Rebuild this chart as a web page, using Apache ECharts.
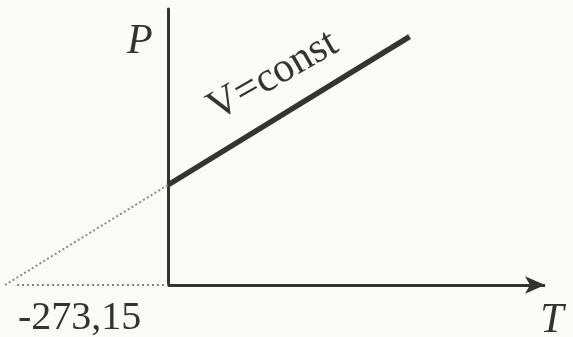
<!DOCTYPE html>
<html>
<head>
<meta charset="utf-8">
<style>
  html, body { margin: 0; padding: 0; background: #fafaf9; }
  #chart { width: 573px; height: 337px; }
</style>
<script src="https://cdn.jsdelivr.net/npm/echarts@6/dist/echarts.min.js"></script>
</head>
<body>
<div id="chart"></div>
<script>
// Isochoric process: pressure grows linearly with temperature (°C),
// extrapolating to zero pressure at absolute zero.
const absoluteZero = -273.15;
const isochoreT = [0, 405];          // measured range, °C
const isochoreP = [1, 2.483];        // relative pressure
const extrapT = [absoluteZero, 0];   // dotted extrapolation
const extrapP = [0, 1];
const baseT = [-253, 0];             // dotted continuation of the T axis
const baseP = [0, 0];
const axisT = [0, 632];              // drawn T axis with arrow
const zeroLabel = '-273,15';
const lineLabel = 'V=const';
const labelAnchor = [176, 2.09];     // centre of the V=const caption in data units

const pairs = (xs, ys) => xs.map((x, i) => [x, ys[i]]);
const serif = '"Liberation Serif", "DejaVu Serif", serif';
const ink = '#333333';

const chart = echarts.init(document.getElementById('chart'), null, { renderer: 'canvas' });

chart.setOption({
  animation: false,
  backgroundColor: '#fafaf9',
  grid: { left: 0, right: 28, top: 9, bottom: 52 },
  xAxis: {
    type: 'value', min: -281.5, max: 632,
    axisLine: { show: false },
    axisTick: { show: false }, axisLabel: { show: false }, splitLine: { show: false }
  },
  yAxis: {
    type: 'value', min: 0, max: 2.76,
    axisLine: { show: true, onZero: true, lineStyle: { color: ink, width: 3 } },
    axisTick: { show: false }, axisLabel: { show: false }, splitLine: { show: false }
  },
  series: [
    {
      type: 'line', data: pairs(baseT, baseP), symbol: 'none', z: 1, silent: true,
      lineStyle: { color: '#858585', width: 2, type: [2, 3] }
    },
    {
      type: 'line', data: pairs(extrapT, extrapP), symbol: 'none', z: 1, silent: true,
      lineStyle: { color: '#8a8a8a', width: 2, type: [2, 2.5] }
    },
    {
      type: 'line', data: pairs(isochoreT, isochoreP), symbol: 'none', z: 3, silent: true,
      lineStyle: { color: '#343434', width: 5.5, cap: 'butt' },
      markLine: {
        silent: true, animation: false,
        symbol: ['none', 'arrow'], symbolSize: [13, 20],
        label: { show: false },
        lineStyle: { color: ink, width: 3, type: 'solid' },
        data: [[{ coord: [axisT[0], 0] }, { coord: [axisT[1], 0] }]]
      }
    }
  ]
});

// Captions placed through the axes' own scales
const px = (pt) => chart.convertToPixel({ gridIndex: 0 }, pt);
const zeroPt = px([absoluteZero, 0]);
const startPt = px([isochoreT[0], isochoreP[0]]);
const endPt = px([isochoreT[1], isochoreP[1]]);
const anchorPt = px(labelAnchor);
const angle = Math.atan2(startPt[1] - endPt[1], endPt[0] - startPt[0]);
const yTop = px([0, 2.76]);
const xEnd = px([axisT[1], 0]);

chart.setOption({
  graphic: [
    {
      type: 'text', x: zeroPt[0] + 13, y: zeroPt[1] + 13,
      style: { text: zeroLabel, font: '40px ' + serif, fill: ink, textAlign: 'left', textVerticalAlign: 'top' }
    },
    {
      type: 'text', x: yTop[0] - 28, y: yTop[1] + 33,
      style: { text: 'P', font: 'italic 42px ' + serif, fill: ink, textAlign: 'center', textVerticalAlign: 'middle' }
    },
    {
      type: 'text', x: xEnd[0] + 7, y: xEnd[1] + 36,
      style: { text: 'T', font: 'italic 42px ' + serif, fill: ink, textAlign: 'center', textVerticalAlign: 'middle' }
    },
    {
      type: 'text', x: anchorPt[0], y: anchorPt[1], rotation: angle - 0.03,
      style: { text: lineLabel, font: '42px ' + serif, fill: ink, textAlign: 'center', textVerticalAlign: 'middle' }
    }
  ]
});
</script>
</body>
</html>
